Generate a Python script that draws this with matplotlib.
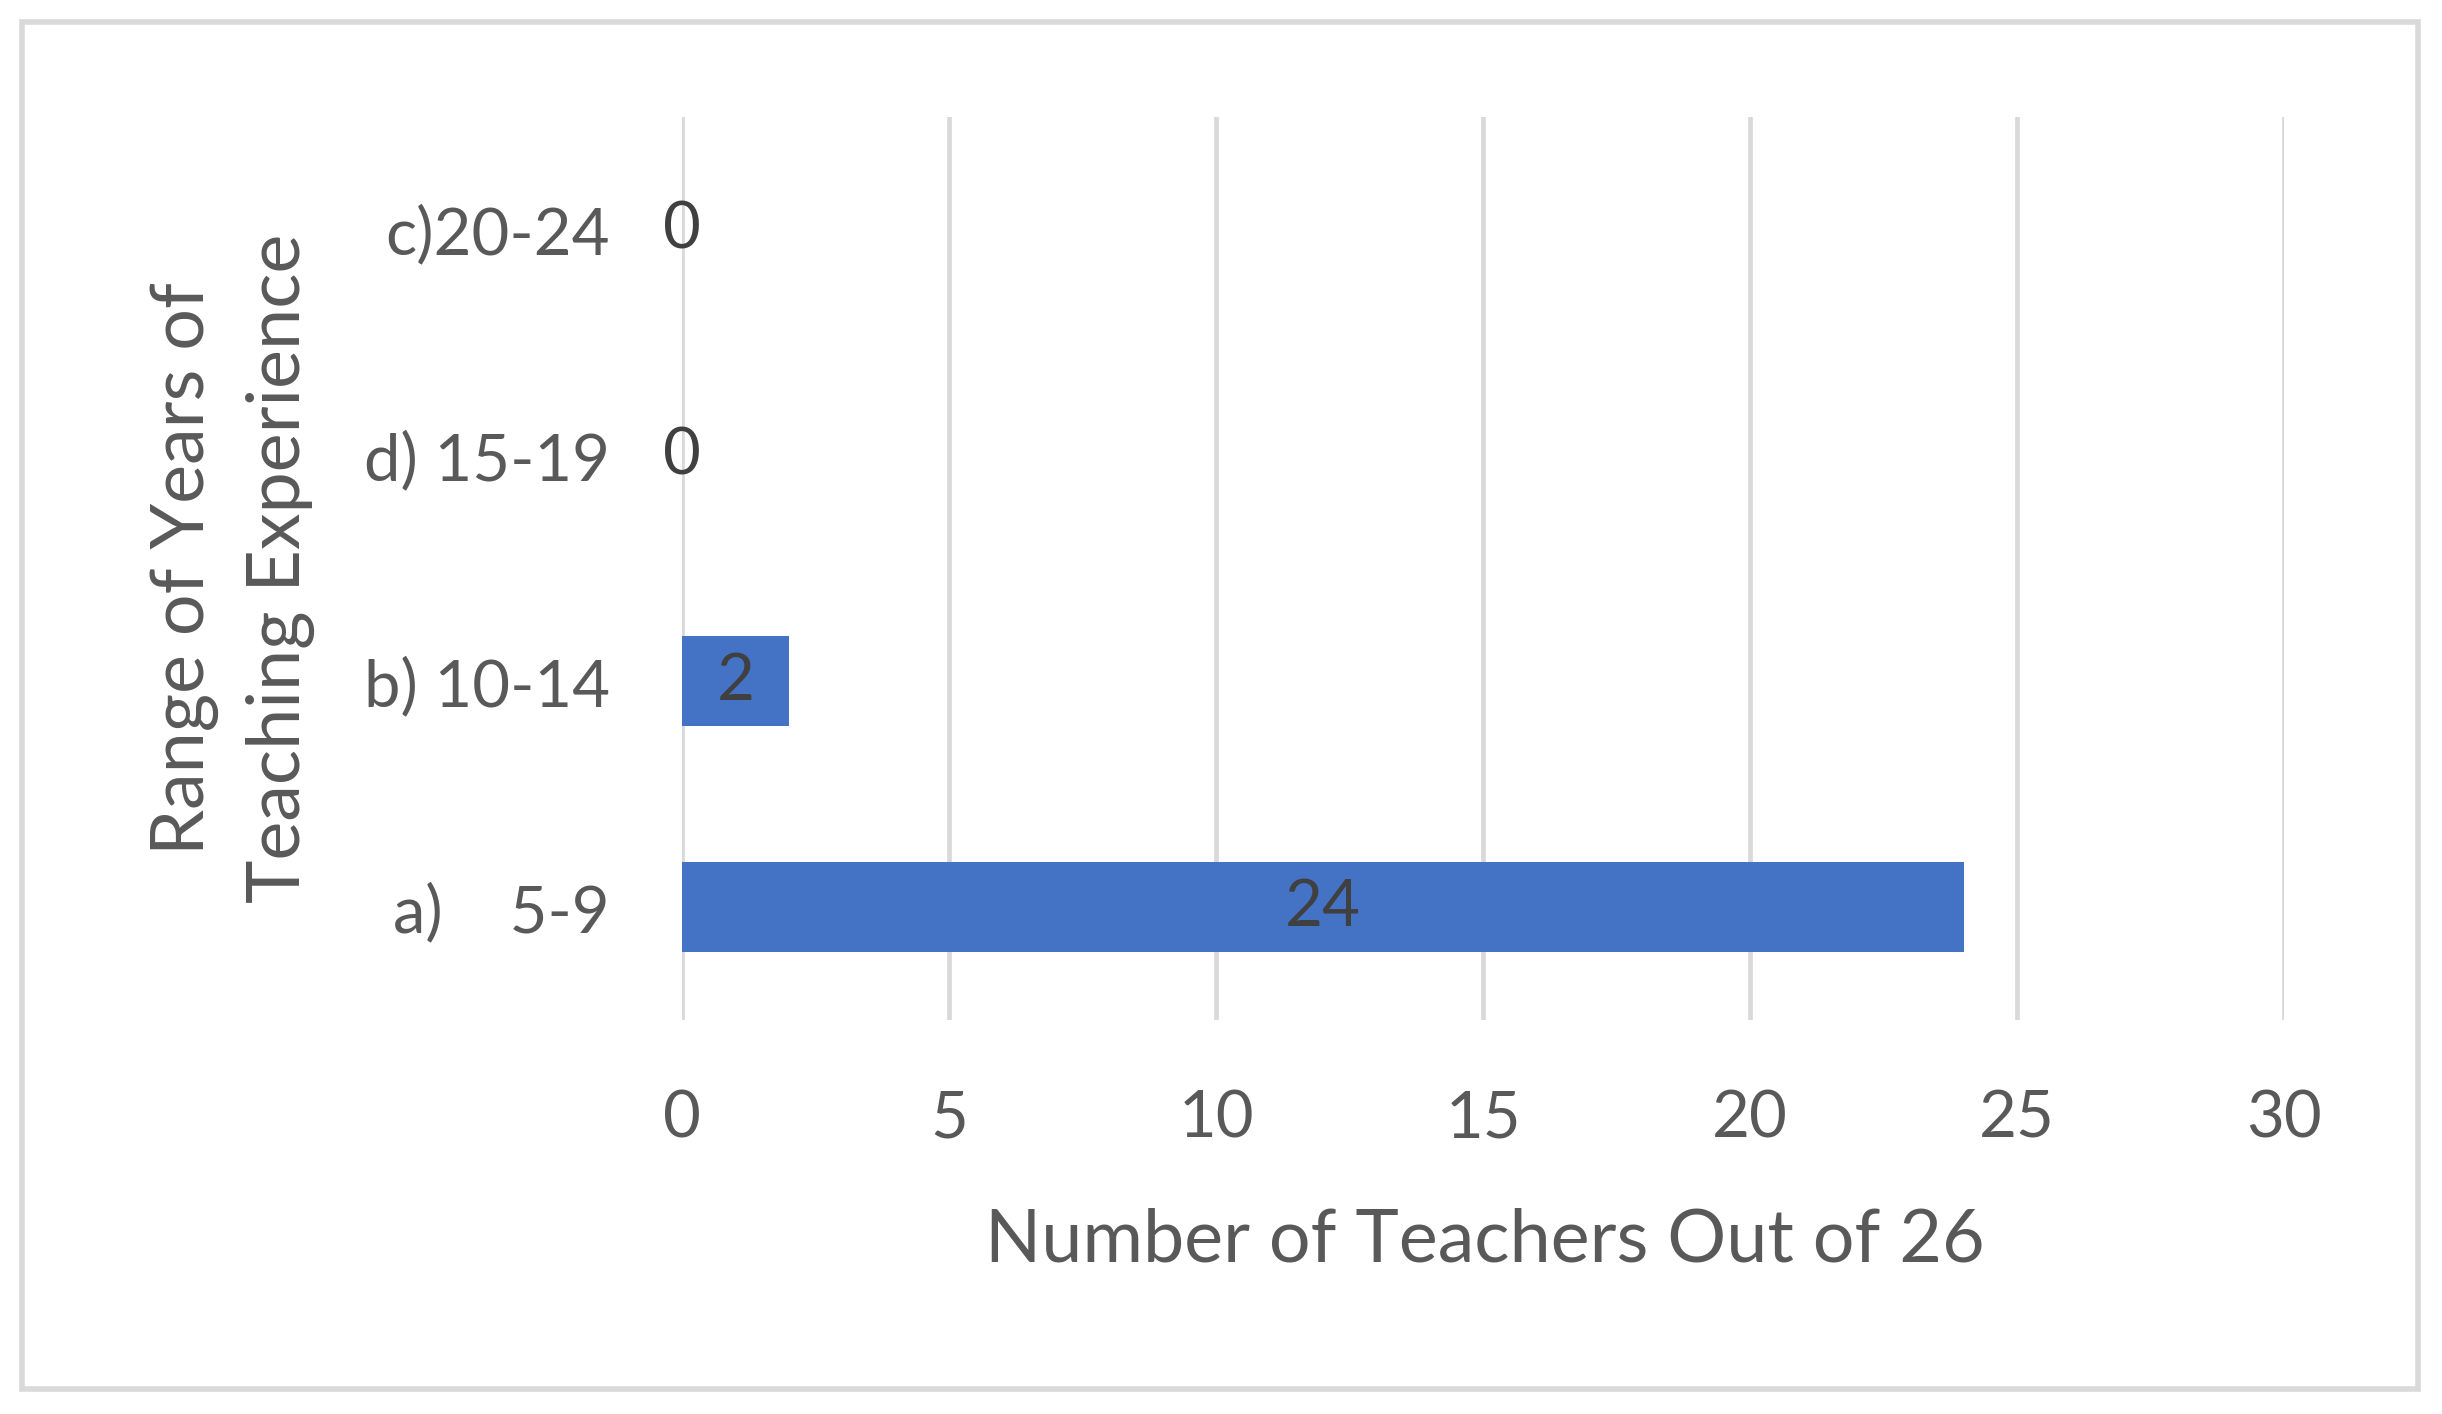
import matplotlib.pyplot as plt
from matplotlib.patches import Rectangle

# data, bottom to top as drawn
categories = ["a)    5-9", "b) 10-14", "d) 15-19", "c)20-24"]
teachers = [24, 2, 0, 0]
x_ticks = [0, 5, 10, 15, 20, 25, 30]

plt.rcParams['font.family'] = ['Lato', 'DejaVu Sans']
txt = '#595959'

fig = plt.figure(figsize=(24.42, 14.14), dpi=100)
ax = fig.add_axes([0.2793, 0.2787, 0.656, 0.6386])

bars = ax.barh(range(len(categories)), teachers, height=0.4, color='#4472C4', zorder=3)
ax.bar_label(bars, label_type='center', fontsize=47, color='#404040')

ax.set_xlim(0, 30)
ax.set_ylim(-0.5, len(categories) - 0.5)
ax.set_xticks(x_ticks)
ax.set_yticks(range(len(categories)))
ax.set_yticklabels(categories)
ax.tick_params(axis='both', length=0, labelsize=47, labelcolor=txt)
ax.tick_params(axis='x', pad=50)
ax.tick_params(axis='y', pad=52)
ax.grid(axis='x', color='#d9d9d9', linewidth=3.4, zorder=0)
ax.grid(axis='y', visible=False)
for s in ax.spines.values():
    s.set_visible(False)

ax.set_xlabel('Number of Teachers Out of 26', fontsize=53, color=txt)
ax.xaxis.set_label_coords(0.501, -0.208)
ax.set_ylabel('Range of Years of\nTeaching Experience', fontsize=53, color=txt, linespacing=1.5)
ax.yaxis.set_label_coords(-0.229, 0.5)

# chart border
fig.patches.append(Rectangle((0.009, 0.0177), 0.981, 0.9667, transform=fig.transFigure,
                             fill=False, edgecolor='#d9d9d9', linewidth=4))

fig.savefig('out.png', dpi=100)
